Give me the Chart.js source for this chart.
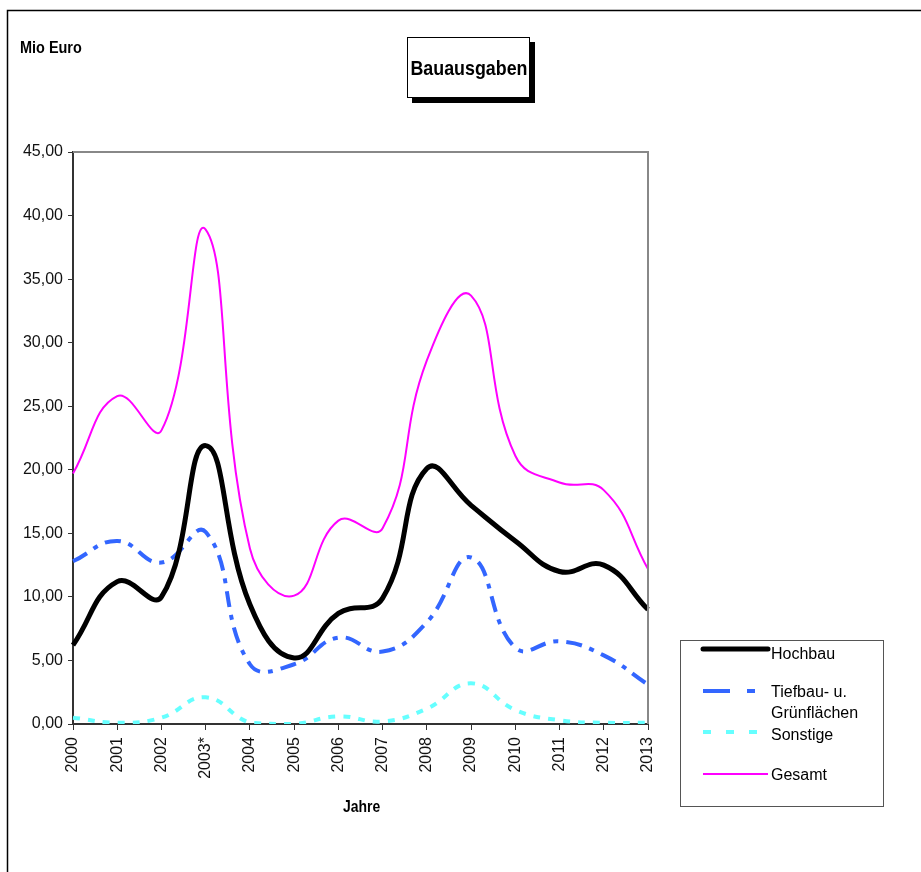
<!DOCTYPE html>
<html lang="de">
<head>
  <meta charset="UTF-8">
  <title>Bauausgaben</title>
  <script src="https://cdn.jsdelivr.net/npm/chart.js"></script>
  <style>
    body { margin: 0; background: #fff; }
    .page { position: relative; width: 921px; height: 872px; overflow: hidden; }
    .page canvas { position: absolute; left: 0; top: 0; }
    .cond { font-family: 'Liberation Sans', Arial, sans-serif; font-weight: bold; color: #000; }
    .cond span { display: inline-block; transform-origin: left center; white-space: nowrap; }
    .unit { position: absolute; left: 20px; top: 38px; font-size: 17px; }
    .unit span { transform: scaleX(0.85); }
    .title { position: absolute; left: 407px; top: 37px; width: 121px; height: 59px; border: 1px solid #000;
             background: #fff; box-shadow: 5px 5px 0 #000; font-size: 21px; line-height: 59px; }
    .title span { position: absolute; left: 50%; top: 0; transform-origin: center center;
                  transform: translateX(-50%) scaleX(0.85); }
    .xtitle { position: absolute; left: 343px; top: 797px; font-size: 17px; }
    .xtitle span { transform: scaleX(0.82); }
    .legend-text { position: absolute; font-family: 'Liberation Sans', Arial, sans-serif; font-size: 16px; color: #000; line-height: 21px; }
  </style>
</head>
<body>
  <div class="page">
    <canvas id="chart" width="921" height="872"></canvas>
    <div class="unit cond"><span>Mio Euro</span></div>
    <div class="title cond"><span>Bauausgaben</span></div>
    <div class="xtitle cond"><span>Jahre</span></div>
    <div class="legend-text" style="left:771px; top:643px;">Hochbau</div>
    <div class="legend-text" style="left:771px; top:681px;">Tiefbau- u.<br>Grünflächen</div>
    <div class="legend-text" style="left:771px; top:724px;">Sonstige</div>
    <div class="legend-text" style="left:771px; top:764px;">Gesamt</div>
  </div>

  <script>
    // Daten (Mio Euro)
    const jahre = ['2000', '2001', '2002', '2003*', '2004', '2005', '2006', '2007', '2008', '2009', '2010', '2011', '2012', '2013'];
    const hochbau  = [6.2, 11.2, 10.0, 21.9, 9.4, 5.2, 8.7, 9.9, 20.1, 17.2, 14.4, 12.0, 12.5, 9.0];
    const tiefbau  = [12.8, 14.4, 12.7, 15.1, 4.7, 4.7, 6.8, 5.7, 8.0, 13.1, 6.0, 6.5, 5.4, 3.1];
    const sonstige = [0.5, 0.1, 0.5, 2.1, 0.1, 0.0, 0.6, 0.2, 1.2, 3.2, 1.1, 0.3, 0.1, 0.1];
    const gesamt   = [19.7, 25.8, 23.1, 38.9, 13.8, 10.1, 16.0, 15.4, 28.6, 33.7, 21.1, 19.0, 18.4, 12.2];
    const yTicks = [0, 5, 10, 15, 20, 25, 30, 35, 40, 45];

    // Rahmen, Plotrand und Legendensymbole
    const extras = {
      id: 'extras',
      afterDraw(chart) {
        const ctx = chart.ctx;
        const a = chart.chartArea;
        ctx.save();
        // Seitenrahmen
        ctx.strokeStyle = '#000';
        ctx.lineWidth = 1.5;
        ctx.beginPath();
        ctx.moveTo(7.5, 872);
        ctx.lineTo(7.5, 10.5);
        ctx.lineTo(921, 10.5);
        ctx.stroke();
        // grauer Rand oben/rechts
        ctx.strokeStyle = '#888';
        ctx.lineWidth = 2;
        ctx.beginPath();
        ctx.moveTo(a.left, a.top);
        ctx.lineTo(a.right, a.top);
        ctx.lineTo(a.right, a.bottom);
        ctx.stroke();
        // Legendenkasten
        ctx.strokeStyle = '#555';
        ctx.lineWidth = 1;
        ctx.strokeRect(680.5, 640.5, 203, 166);
        const ys = [649, 691, 732, 774];
        chart.data.datasets.forEach((ds, i) => {
          ctx.strokeStyle = ds.borderColor;
          ctx.lineWidth = ds.borderWidth;
          ctx.lineCap = i === 0 ? 'round' : 'butt';
          ctx.setLineDash(ds.legendDash || []);
          ctx.beginPath();
          ctx.moveTo(703, ys[i]);
          ctx.lineTo(768, ys[i]);
          ctx.stroke();
        });
        ctx.restore();
      }
    };

    new Chart(document.getElementById('chart'), {
      type: 'line',
      data: {
        labels: jahre,
        datasets: [
          { label: 'Hochbau', data: hochbau, borderColor: '#000000', borderWidth: 5, tension: 0.45, pointRadius: 0 },
          { label: 'Tiefbau- u. Grünflächen', data: tiefbau, borderColor: '#3366FF', borderWidth: 4, borderDash: [16, 8, 5, 8],
            legendDash: [27, 17, 8, 13], tension: 0.45, pointRadius: 0 },
          { label: 'Sonstige', data: sonstige, borderColor: '#66FFFF', borderWidth: 4, borderDash: [7, 8],
            legendDash: [8, 15], tension: 0.45, pointRadius: 0 },
          { label: 'Gesamt', data: gesamt, borderColor: '#FF00FF', borderWidth: 2, tension: 0.45, pointRadius: 0 }
        ]
      },
      options: {
        responsive: false,
        animation: false,
        layout: { padding: { left: 0, top: 152, right: 273, bottom: 0 } },
        plugins: { legend: { display: false }, tooltip: { enabled: false } },
        scales: {
          x: {
            offset: false,
            afterFit(scale) { scale.height = 148; },
            grid: { drawOnChartArea: false, drawTicks: true, tickLength: 6, color: '#333' },
            border: { color: '#333', width: 2 },
            ticks: { minRotation: 90, maxRotation: 90, autoSkip: false, padding: 7, color: '#111',
                     font: { family: "'Liberation Sans', Arial, sans-serif", size: 16 } }
          },
          y: {
            min: 0,
            max: 45,
            afterFit(scale) { scale.width = 73; },
            afterBuildTicks(scale) { scale.ticks = yTicks.map(v => ({ value: v })); },
            grid: { drawOnChartArea: false, drawTicks: true, tickLength: 5, color: '#333' },
            border: { color: '#333', width: 2 },
            ticks: { padding: 5, color: '#111',
                     font: { family: "'Liberation Sans', Arial, sans-serif", size: 16 },
                     callback: v => v.toFixed(2).replace('.', ',') }
          }
        }
      },
      plugins: [extras]
    });
  </script>
</body>
</html>
